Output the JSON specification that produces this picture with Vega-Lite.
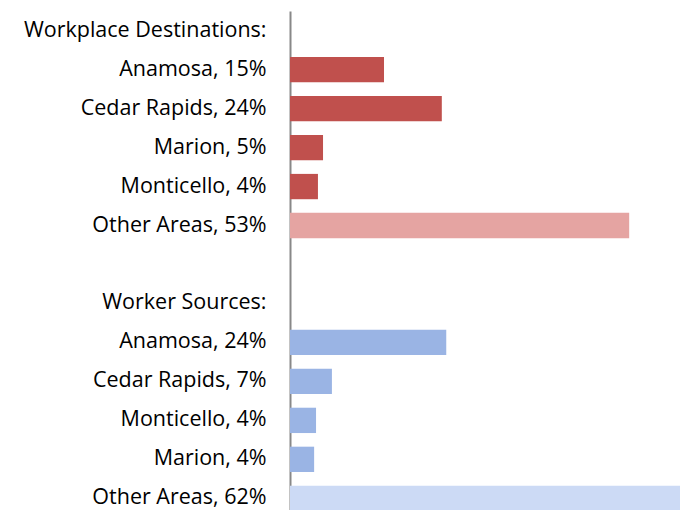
{
  "$schema": "https://vega.github.io/schema/vega-lite/v6.json",
  "autosize": {"type": "none"},
  "padding": {"left": 290, "top": 11, "right": 0, "bottom": 0},
  "width": 390,
  "height": 507,
  "background": "white",
  "config": {"view": {"stroke": null}},
  "data": {
    "values": [
      {"label": "Workplace Destinations:", "value": 0, "kind": "none"},
      {"label": "Anamosa, 15%", "value": 14.8, "kind": "dest"},
      {"label": "Cedar Rapids, 24%", "value": 23.9, "kind": "dest"},
      {"label": "Marion, 5%", "value": 5.2, "kind": "dest"},
      {"label": "Monticello, 4%", "value": 4.4, "kind": "dest"},
      {"label": "Other Areas, 53%", "value": 53.4, "kind": "destOther"},
      {"label": " ", "value": 0, "kind": "none"},
      {"label": "Worker Sources:", "value": 0, "kind": "none"},
      {"label": "Anamosa, 24% ", "value": 24.6, "kind": "src"},
      {"label": "Cedar Rapids, 7%", "value": 6.6, "kind": "src"},
      {"label": "Monticello, 4% ", "value": 4.1, "kind": "src"},
      {"label": "Marion, 4%", "value": 3.8, "kind": "src"},
      {"label": "Other Areas, 62%", "value": 62, "kind": "srcOther"}
    ]
  },
  "mark": {"type": "bar", "clip": true},
  "encoding": {
    "y": {
      "field": "label",
      "type": "nominal",
      "sort": null,
      "scale": {"paddingInner": 0.35, "paddingOuter": 0.18},
      "axis": {
        "title": null,
        "ticks": false,
        "domainColor": "#888888",
        "domainWidth": 2,
        "labelFont": "Open Sans",
        "labelFontSize": 21.5,
        "labelColor": "#000000",
        "labelPadding": 24,
        "labelLimit": 400
      }
    },
    "x": {
      "field": "value",
      "type": "quantitative",
      "scale": {"domain": [0, 61.4], "nice": false},
      "axis": null
    },
    "color": {
      "field": "kind",
      "type": "nominal",
      "scale": {
        "domain": ["dest", "destOther", "src", "srcOther", "none"],
        "range": ["#C0504D", "#E5A4A2", "#9AB4E4", "#CCDAF5", "#ffffff"]
      },
      "legend": null
    }
  }
}
